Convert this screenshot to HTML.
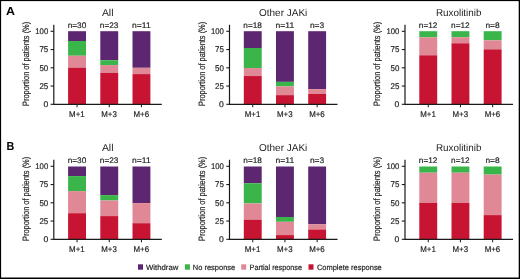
<!DOCTYPE html>
<html><head><meta charset="utf-8"><style>
html,body{margin:0;padding:0;background:#fff;}
body{position:relative;width:520px;height:279px;overflow:hidden;font-family:"Liberation Sans",sans-serif;}
svg{display:block;position:absolute;left:0;top:0;} #c{will-change:transform;filter:blur(0.4px);} text{text-rendering:geometricPrecision;font-family:"Liberation Sans",sans-serif;} .t{fill:#1e1e1e;stroke:#1e1e1e;stroke-width:0.18px;}
</style></head><body>
<svg id="c" width="520" height="279" viewBox="0 0 520 279">
<rect x="-5" y="-5" width="530" height="289" fill="#fff"/>
<g>
<rect x="68.10" y="31.20" width="17.9" height="9.80" fill="#5C2670"/>
<rect x="68.10" y="41.00" width="17.9" height="14.75" fill="#3AB54A"/>
<rect x="68.10" y="55.75" width="17.9" height="11.90" fill="#E08896"/>
<rect x="68.10" y="67.65" width="17.9" height="36.65" fill="#C71432"/>
<rect x="100.30" y="31.20" width="17.9" height="29.00" fill="#5C2670"/>
<rect x="100.30" y="60.20" width="17.9" height="4.90" fill="#3AB54A"/>
<rect x="100.30" y="65.10" width="17.9" height="7.80" fill="#E08896"/>
<rect x="100.30" y="72.90" width="17.9" height="31.40" fill="#C71432"/>
<rect x="132.50" y="31.20" width="17.9" height="36.60" fill="#5C2670"/>
<rect x="132.50" y="67.80" width="17.9" height="6.30" fill="#E08896"/>
<rect x="132.50" y="74.10" width="17.9" height="30.20" fill="#C71432"/>
<path d="M53.80 24.70V104.30H161.80" fill="none" stroke="#1a1a1a" stroke-width="1.2"/>
<path d="M50.60 104.30H53.80" stroke="#1a1a1a" stroke-width="1.1"/>
<text class="t" x="48.20" y="107.20" font-size="8.3" text-anchor="end" textLength="4.80" lengthAdjust="spacingAndGlyphs" >0</text>
<path d="M50.60 86.05H53.80" stroke="#1a1a1a" stroke-width="1.1"/>
<text class="t" x="48.20" y="88.95" font-size="8.3" text-anchor="end" textLength="8.80" lengthAdjust="spacingAndGlyphs" >25</text>
<path d="M50.60 67.80H53.80" stroke="#1a1a1a" stroke-width="1.1"/>
<text class="t" x="48.20" y="70.70" font-size="8.3" text-anchor="end" textLength="8.80" lengthAdjust="spacingAndGlyphs" >50</text>
<path d="M50.60 49.55H53.80" stroke="#1a1a1a" stroke-width="1.1"/>
<text class="t" x="48.20" y="52.45" font-size="8.3" text-anchor="end" textLength="8.80" lengthAdjust="spacingAndGlyphs" >75</text>
<path d="M50.60 31.30H53.80" stroke="#1a1a1a" stroke-width="1.1"/>
<text class="t" x="48.20" y="34.20" font-size="8.3" text-anchor="end" textLength="12.90" lengthAdjust="spacingAndGlyphs" >100</text>
<path d="M77.05 104.30V107.30" stroke="#1a1a1a" stroke-width="1"/>
<text class="t" x="76.85" y="116.50" font-size="8.3" text-anchor="middle" textLength="15.60" lengthAdjust="spacingAndGlyphs" >M+1</text>
<text class="t" x="76.95" y="27.70" font-size="8.1" text-anchor="middle" textLength="18.60" lengthAdjust="spacingAndGlyphs" >n=30</text>
<path d="M109.25 104.30V107.30" stroke="#1a1a1a" stroke-width="1"/>
<text class="t" x="109.05" y="116.50" font-size="8.3" text-anchor="middle" textLength="15.60" lengthAdjust="spacingAndGlyphs" >M+3</text>
<text class="t" x="109.15" y="27.70" font-size="8.1" text-anchor="middle" textLength="18.60" lengthAdjust="spacingAndGlyphs" >n=23</text>
<path d="M141.45 104.30V107.30" stroke="#1a1a1a" stroke-width="1"/>
<text class="t" x="141.25" y="116.50" font-size="8.3" text-anchor="middle" textLength="15.60" lengthAdjust="spacingAndGlyphs" >M+6</text>
<text class="t" x="141.35" y="27.70" font-size="8.1" text-anchor="middle" textLength="18.60" lengthAdjust="spacingAndGlyphs" >n=11</text>
<text class="t" x="107.70" y="15.75" font-size="10" text-anchor="middle" textLength="11.60" lengthAdjust="spacingAndGlyphs" style="stroke-width:0">All</text>
<text class="t" transform="translate(29.00,63.90) rotate(-90)" x="0" y="0" text-anchor="middle" font-size="9.2" textLength="84.2" lengthAdjust="spacingAndGlyphs">Proportion of patients (%)</text>
<rect x="243.80" y="31.20" width="17.9" height="16.80" fill="#5C2670"/>
<rect x="243.80" y="48.00" width="17.9" height="20.05" fill="#3AB54A"/>
<rect x="243.80" y="68.05" width="17.9" height="8.00" fill="#E08896"/>
<rect x="243.80" y="76.05" width="17.9" height="28.25" fill="#C71432"/>
<rect x="276.00" y="31.20" width="17.9" height="50.65" fill="#5C2670"/>
<rect x="276.00" y="81.85" width="17.9" height="4.55" fill="#3AB54A"/>
<rect x="276.00" y="86.40" width="17.9" height="8.75" fill="#E08896"/>
<rect x="276.00" y="95.15" width="17.9" height="9.15" fill="#C71432"/>
<rect x="308.20" y="31.20" width="17.9" height="57.90" fill="#5C2670"/>
<rect x="308.20" y="89.10" width="17.9" height="4.90" fill="#E08896"/>
<rect x="308.20" y="94.00" width="17.9" height="10.30" fill="#C71432"/>
<path d="M229.50 24.70V104.30H337.50" fill="none" stroke="#1a1a1a" stroke-width="1.2"/>
<path d="M226.30 104.30H229.50" stroke="#1a1a1a" stroke-width="1.1"/>
<text class="t" x="223.90" y="107.20" font-size="8.3" text-anchor="end" textLength="4.80" lengthAdjust="spacingAndGlyphs" >0</text>
<path d="M226.30 86.05H229.50" stroke="#1a1a1a" stroke-width="1.1"/>
<text class="t" x="223.90" y="88.95" font-size="8.3" text-anchor="end" textLength="8.80" lengthAdjust="spacingAndGlyphs" >25</text>
<path d="M226.30 67.80H229.50" stroke="#1a1a1a" stroke-width="1.1"/>
<text class="t" x="223.90" y="70.70" font-size="8.3" text-anchor="end" textLength="8.80" lengthAdjust="spacingAndGlyphs" >50</text>
<path d="M226.30 49.55H229.50" stroke="#1a1a1a" stroke-width="1.1"/>
<text class="t" x="223.90" y="52.45" font-size="8.3" text-anchor="end" textLength="8.80" lengthAdjust="spacingAndGlyphs" >75</text>
<path d="M226.30 31.30H229.50" stroke="#1a1a1a" stroke-width="1.1"/>
<text class="t" x="223.90" y="34.20" font-size="8.3" text-anchor="end" textLength="12.90" lengthAdjust="spacingAndGlyphs" >100</text>
<path d="M252.75 104.30V107.30" stroke="#1a1a1a" stroke-width="1"/>
<text class="t" x="252.55" y="116.50" font-size="8.3" text-anchor="middle" textLength="15.60" lengthAdjust="spacingAndGlyphs" >M+1</text>
<text class="t" x="252.65" y="27.70" font-size="8.1" text-anchor="middle" textLength="18.60" lengthAdjust="spacingAndGlyphs" >n=18</text>
<path d="M284.95 104.30V107.30" stroke="#1a1a1a" stroke-width="1"/>
<text class="t" x="284.75" y="116.50" font-size="8.3" text-anchor="middle" textLength="15.60" lengthAdjust="spacingAndGlyphs" >M+3</text>
<text class="t" x="284.85" y="27.70" font-size="8.1" text-anchor="middle" textLength="18.60" lengthAdjust="spacingAndGlyphs" >n=11</text>
<path d="M317.15 104.30V107.30" stroke="#1a1a1a" stroke-width="1"/>
<text class="t" x="316.95" y="116.50" font-size="8.3" text-anchor="middle" textLength="15.60" lengthAdjust="spacingAndGlyphs" >M+6</text>
<text class="t" x="317.05" y="27.70" font-size="8.1" text-anchor="middle" textLength="14.20" lengthAdjust="spacingAndGlyphs" >n=3</text>
<text class="t" x="283.15" y="15.75" font-size="10" text-anchor="middle" textLength="48.30" lengthAdjust="spacingAndGlyphs" style="stroke-width:0">Other JAKi</text>
<text class="t" transform="translate(204.70,63.90) rotate(-90)" x="0" y="0" text-anchor="middle" font-size="9.2" textLength="84.2" lengthAdjust="spacingAndGlyphs">Proportion of patients (%)</text>
<rect x="419.30" y="31.20" width="17.9" height="6.05" fill="#3AB54A"/>
<rect x="419.30" y="37.25" width="17.9" height="18.05" fill="#E08896"/>
<rect x="419.30" y="55.30" width="17.9" height="49.00" fill="#C71432"/>
<rect x="451.50" y="31.20" width="17.9" height="6.00" fill="#3AB54A"/>
<rect x="451.50" y="37.20" width="17.9" height="6.10" fill="#E08896"/>
<rect x="451.50" y="43.30" width="17.9" height="61.00" fill="#C71432"/>
<rect x="483.70" y="31.20" width="17.9" height="9.10" fill="#3AB54A"/>
<rect x="483.70" y="40.30" width="17.9" height="9.05" fill="#E08896"/>
<rect x="483.70" y="49.35" width="17.9" height="54.95" fill="#C71432"/>
<path d="M405.00 24.70V104.30H513.00" fill="none" stroke="#1a1a1a" stroke-width="1.2"/>
<path d="M401.80 104.30H405.00" stroke="#1a1a1a" stroke-width="1.1"/>
<text class="t" x="399.40" y="107.20" font-size="8.3" text-anchor="end" textLength="4.80" lengthAdjust="spacingAndGlyphs" >0</text>
<path d="M401.80 86.05H405.00" stroke="#1a1a1a" stroke-width="1.1"/>
<text class="t" x="399.40" y="88.95" font-size="8.3" text-anchor="end" textLength="8.80" lengthAdjust="spacingAndGlyphs" >25</text>
<path d="M401.80 67.80H405.00" stroke="#1a1a1a" stroke-width="1.1"/>
<text class="t" x="399.40" y="70.70" font-size="8.3" text-anchor="end" textLength="8.80" lengthAdjust="spacingAndGlyphs" >50</text>
<path d="M401.80 49.55H405.00" stroke="#1a1a1a" stroke-width="1.1"/>
<text class="t" x="399.40" y="52.45" font-size="8.3" text-anchor="end" textLength="8.80" lengthAdjust="spacingAndGlyphs" >75</text>
<path d="M401.80 31.30H405.00" stroke="#1a1a1a" stroke-width="1.1"/>
<text class="t" x="399.40" y="34.20" font-size="8.3" text-anchor="end" textLength="12.90" lengthAdjust="spacingAndGlyphs" >100</text>
<path d="M428.25 104.30V107.30" stroke="#1a1a1a" stroke-width="1"/>
<text class="t" x="428.05" y="116.50" font-size="8.3" text-anchor="middle" textLength="15.60" lengthAdjust="spacingAndGlyphs" >M+1</text>
<text class="t" x="428.15" y="27.70" font-size="8.1" text-anchor="middle" textLength="18.60" lengthAdjust="spacingAndGlyphs" >n=12</text>
<path d="M460.45 104.30V107.30" stroke="#1a1a1a" stroke-width="1"/>
<text class="t" x="460.25" y="116.50" font-size="8.3" text-anchor="middle" textLength="15.60" lengthAdjust="spacingAndGlyphs" >M+3</text>
<text class="t" x="460.35" y="27.70" font-size="8.1" text-anchor="middle" textLength="18.60" lengthAdjust="spacingAndGlyphs" >n=12</text>
<path d="M492.65 104.30V107.30" stroke="#1a1a1a" stroke-width="1"/>
<text class="t" x="492.45" y="116.50" font-size="8.3" text-anchor="middle" textLength="15.60" lengthAdjust="spacingAndGlyphs" >M+6</text>
<text class="t" x="492.55" y="27.70" font-size="8.1" text-anchor="middle" textLength="14.20" lengthAdjust="spacingAndGlyphs" >n=8</text>
<text class="t" x="458.70" y="15.75" font-size="10" text-anchor="middle" textLength="45.60" lengthAdjust="spacingAndGlyphs" style="stroke-width:0">Ruxolitinib</text>
<text class="t" transform="translate(380.20,63.90) rotate(-90)" x="0" y="0" text-anchor="middle" font-size="9.2" textLength="84.2" lengthAdjust="spacingAndGlyphs">Proportion of patients (%)</text>
<rect x="68.10" y="166.50" width="17.9" height="9.60" fill="#5C2670"/>
<rect x="68.10" y="176.10" width="17.9" height="15.00" fill="#3AB54A"/>
<rect x="68.10" y="191.10" width="17.9" height="22.10" fill="#E08896"/>
<rect x="68.10" y="213.20" width="17.9" height="26.10" fill="#C71432"/>
<rect x="100.30" y="166.50" width="17.9" height="28.60" fill="#5C2670"/>
<rect x="100.30" y="195.10" width="17.9" height="5.40" fill="#3AB54A"/>
<rect x="100.30" y="200.50" width="17.9" height="15.60" fill="#E08896"/>
<rect x="100.30" y="216.10" width="17.9" height="23.20" fill="#C71432"/>
<rect x="132.50" y="166.50" width="17.9" height="36.60" fill="#5C2670"/>
<rect x="132.50" y="203.10" width="17.9" height="20.10" fill="#E08896"/>
<rect x="132.50" y="223.20" width="17.9" height="16.10" fill="#C71432"/>
<path d="M53.80 159.70V239.30H161.80" fill="none" stroke="#1a1a1a" stroke-width="1.2"/>
<path d="M50.60 239.30H53.80" stroke="#1a1a1a" stroke-width="1.1"/>
<text class="t" x="48.20" y="242.20" font-size="8.3" text-anchor="end" textLength="4.80" lengthAdjust="spacingAndGlyphs" >0</text>
<path d="M50.60 221.05H53.80" stroke="#1a1a1a" stroke-width="1.1"/>
<text class="t" x="48.20" y="223.95" font-size="8.3" text-anchor="end" textLength="8.80" lengthAdjust="spacingAndGlyphs" >25</text>
<path d="M50.60 202.80H53.80" stroke="#1a1a1a" stroke-width="1.1"/>
<text class="t" x="48.20" y="205.70" font-size="8.3" text-anchor="end" textLength="8.80" lengthAdjust="spacingAndGlyphs" >50</text>
<path d="M50.60 184.55H53.80" stroke="#1a1a1a" stroke-width="1.1"/>
<text class="t" x="48.20" y="187.45" font-size="8.3" text-anchor="end" textLength="8.80" lengthAdjust="spacingAndGlyphs" >75</text>
<path d="M50.60 166.30H53.80" stroke="#1a1a1a" stroke-width="1.1"/>
<text class="t" x="48.20" y="169.20" font-size="8.3" text-anchor="end" textLength="12.90" lengthAdjust="spacingAndGlyphs" >100</text>
<path d="M77.05 239.30V242.30" stroke="#1a1a1a" stroke-width="1"/>
<text class="t" x="76.85" y="251.50" font-size="8.3" text-anchor="middle" textLength="15.60" lengthAdjust="spacingAndGlyphs" >M+1</text>
<text class="t" x="76.95" y="162.70" font-size="8.1" text-anchor="middle" textLength="18.60" lengthAdjust="spacingAndGlyphs" >n=30</text>
<path d="M109.25 239.30V242.30" stroke="#1a1a1a" stroke-width="1"/>
<text class="t" x="109.05" y="251.50" font-size="8.3" text-anchor="middle" textLength="15.60" lengthAdjust="spacingAndGlyphs" >M+3</text>
<text class="t" x="109.15" y="162.70" font-size="8.1" text-anchor="middle" textLength="18.60" lengthAdjust="spacingAndGlyphs" >n=23</text>
<path d="M141.45 239.30V242.30" stroke="#1a1a1a" stroke-width="1"/>
<text class="t" x="141.25" y="251.50" font-size="8.3" text-anchor="middle" textLength="15.60" lengthAdjust="spacingAndGlyphs" >M+6</text>
<text class="t" x="141.35" y="162.70" font-size="8.1" text-anchor="middle" textLength="18.60" lengthAdjust="spacingAndGlyphs" >n=11</text>
<text class="t" x="107.70" y="150.75" font-size="10" text-anchor="middle" textLength="11.60" lengthAdjust="spacingAndGlyphs" style="stroke-width:0">All</text>
<text class="t" transform="translate(29.00,198.90) rotate(-90)" x="0" y="0" text-anchor="middle" font-size="9.2" textLength="84.2" lengthAdjust="spacingAndGlyphs">Proportion of patients (%)</text>
<rect x="243.80" y="166.50" width="17.9" height="16.70" fill="#5C2670"/>
<rect x="243.80" y="183.20" width="17.9" height="20.25" fill="#3AB54A"/>
<rect x="243.80" y="203.45" width="17.9" height="16.25" fill="#E08896"/>
<rect x="243.80" y="219.70" width="17.9" height="19.60" fill="#C71432"/>
<rect x="276.00" y="166.50" width="17.9" height="50.50" fill="#5C2670"/>
<rect x="276.00" y="217.00" width="17.9" height="4.80" fill="#3AB54A"/>
<rect x="276.00" y="221.80" width="17.9" height="13.30" fill="#E08896"/>
<rect x="276.00" y="235.10" width="17.9" height="4.20" fill="#C71432"/>
<rect x="308.20" y="166.50" width="17.9" height="57.80" fill="#5C2670"/>
<rect x="308.20" y="224.30" width="17.9" height="5.20" fill="#E08896"/>
<rect x="308.20" y="229.50" width="17.9" height="9.80" fill="#C71432"/>
<path d="M229.50 159.70V239.30H337.50" fill="none" stroke="#1a1a1a" stroke-width="1.2"/>
<path d="M226.30 239.30H229.50" stroke="#1a1a1a" stroke-width="1.1"/>
<text class="t" x="223.90" y="242.20" font-size="8.3" text-anchor="end" textLength="4.80" lengthAdjust="spacingAndGlyphs" >0</text>
<path d="M226.30 221.05H229.50" stroke="#1a1a1a" stroke-width="1.1"/>
<text class="t" x="223.90" y="223.95" font-size="8.3" text-anchor="end" textLength="8.80" lengthAdjust="spacingAndGlyphs" >25</text>
<path d="M226.30 202.80H229.50" stroke="#1a1a1a" stroke-width="1.1"/>
<text class="t" x="223.90" y="205.70" font-size="8.3" text-anchor="end" textLength="8.80" lengthAdjust="spacingAndGlyphs" >50</text>
<path d="M226.30 184.55H229.50" stroke="#1a1a1a" stroke-width="1.1"/>
<text class="t" x="223.90" y="187.45" font-size="8.3" text-anchor="end" textLength="8.80" lengthAdjust="spacingAndGlyphs" >75</text>
<path d="M226.30 166.30H229.50" stroke="#1a1a1a" stroke-width="1.1"/>
<text class="t" x="223.90" y="169.20" font-size="8.3" text-anchor="end" textLength="12.90" lengthAdjust="spacingAndGlyphs" >100</text>
<path d="M252.75 239.30V242.30" stroke="#1a1a1a" stroke-width="1"/>
<text class="t" x="252.55" y="251.50" font-size="8.3" text-anchor="middle" textLength="15.60" lengthAdjust="spacingAndGlyphs" >M+1</text>
<text class="t" x="252.65" y="162.70" font-size="8.1" text-anchor="middle" textLength="18.60" lengthAdjust="spacingAndGlyphs" >n=18</text>
<path d="M284.95 239.30V242.30" stroke="#1a1a1a" stroke-width="1"/>
<text class="t" x="284.75" y="251.50" font-size="8.3" text-anchor="middle" textLength="15.60" lengthAdjust="spacingAndGlyphs" >M+3</text>
<text class="t" x="284.85" y="162.70" font-size="8.1" text-anchor="middle" textLength="18.60" lengthAdjust="spacingAndGlyphs" >n=11</text>
<path d="M317.15 239.30V242.30" stroke="#1a1a1a" stroke-width="1"/>
<text class="t" x="316.95" y="251.50" font-size="8.3" text-anchor="middle" textLength="15.60" lengthAdjust="spacingAndGlyphs" >M+6</text>
<text class="t" x="317.05" y="162.70" font-size="8.1" text-anchor="middle" textLength="14.20" lengthAdjust="spacingAndGlyphs" >n=3</text>
<text class="t" x="283.15" y="150.75" font-size="10" text-anchor="middle" textLength="48.30" lengthAdjust="spacingAndGlyphs" style="stroke-width:0">Other JAKi</text>
<text class="t" transform="translate(204.70,198.90) rotate(-90)" x="0" y="0" text-anchor="middle" font-size="9.2" textLength="84.2" lengthAdjust="spacingAndGlyphs">Proportion of patients (%)</text>
<rect x="419.30" y="166.50" width="17.9" height="6.20" fill="#3AB54A"/>
<rect x="419.30" y="172.70" width="17.9" height="30.20" fill="#E08896"/>
<rect x="419.30" y="202.90" width="17.9" height="36.40" fill="#C71432"/>
<rect x="451.50" y="166.50" width="17.9" height="6.20" fill="#3AB54A"/>
<rect x="451.50" y="172.70" width="17.9" height="30.20" fill="#E08896"/>
<rect x="451.50" y="202.90" width="17.9" height="36.40" fill="#C71432"/>
<rect x="483.70" y="166.50" width="17.9" height="8.10" fill="#3AB54A"/>
<rect x="483.70" y="174.60" width="17.9" height="40.50" fill="#E08896"/>
<rect x="483.70" y="215.10" width="17.9" height="24.20" fill="#C71432"/>
<path d="M405.00 159.70V239.30H513.00" fill="none" stroke="#1a1a1a" stroke-width="1.2"/>
<path d="M401.80 239.30H405.00" stroke="#1a1a1a" stroke-width="1.1"/>
<text class="t" x="399.40" y="242.20" font-size="8.3" text-anchor="end" textLength="4.80" lengthAdjust="spacingAndGlyphs" >0</text>
<path d="M401.80 221.05H405.00" stroke="#1a1a1a" stroke-width="1.1"/>
<text class="t" x="399.40" y="223.95" font-size="8.3" text-anchor="end" textLength="8.80" lengthAdjust="spacingAndGlyphs" >25</text>
<path d="M401.80 202.80H405.00" stroke="#1a1a1a" stroke-width="1.1"/>
<text class="t" x="399.40" y="205.70" font-size="8.3" text-anchor="end" textLength="8.80" lengthAdjust="spacingAndGlyphs" >50</text>
<path d="M401.80 184.55H405.00" stroke="#1a1a1a" stroke-width="1.1"/>
<text class="t" x="399.40" y="187.45" font-size="8.3" text-anchor="end" textLength="8.80" lengthAdjust="spacingAndGlyphs" >75</text>
<path d="M401.80 166.30H405.00" stroke="#1a1a1a" stroke-width="1.1"/>
<text class="t" x="399.40" y="169.20" font-size="8.3" text-anchor="end" textLength="12.90" lengthAdjust="spacingAndGlyphs" >100</text>
<path d="M428.25 239.30V242.30" stroke="#1a1a1a" stroke-width="1"/>
<text class="t" x="428.05" y="251.50" font-size="8.3" text-anchor="middle" textLength="15.60" lengthAdjust="spacingAndGlyphs" >M+1</text>
<text class="t" x="428.15" y="162.70" font-size="8.1" text-anchor="middle" textLength="18.60" lengthAdjust="spacingAndGlyphs" >n=12</text>
<path d="M460.45 239.30V242.30" stroke="#1a1a1a" stroke-width="1"/>
<text class="t" x="460.25" y="251.50" font-size="8.3" text-anchor="middle" textLength="15.60" lengthAdjust="spacingAndGlyphs" >M+3</text>
<text class="t" x="460.35" y="162.70" font-size="8.1" text-anchor="middle" textLength="18.60" lengthAdjust="spacingAndGlyphs" >n=12</text>
<path d="M492.65 239.30V242.30" stroke="#1a1a1a" stroke-width="1"/>
<text class="t" x="492.45" y="251.50" font-size="8.3" text-anchor="middle" textLength="15.60" lengthAdjust="spacingAndGlyphs" >M+6</text>
<text class="t" x="492.55" y="162.70" font-size="8.1" text-anchor="middle" textLength="14.20" lengthAdjust="spacingAndGlyphs" >n=8</text>
<text class="t" x="458.70" y="150.75" font-size="10" text-anchor="middle" textLength="45.60" lengthAdjust="spacingAndGlyphs" style="stroke-width:0">Ruxolitinib</text>
<text class="t" transform="translate(380.20,198.90) rotate(-90)" x="0" y="0" text-anchor="middle" font-size="9.2" textLength="84.2" lengthAdjust="spacingAndGlyphs">Proportion of patients (%)</text>
<text x="5.9" y="15.0" font-size="11.5" font-weight="bold" fill="#000" textLength="9.0" lengthAdjust="spacingAndGlyphs">A</text>
<text x="6.6" y="150.2" font-size="11.5" font-weight="bold" fill="#000" textLength="7.8" lengthAdjust="spacingAndGlyphs">B</text>
<rect x="138.0" y="264.3" width="5.0" height="5.4" fill="#5C2670"/>
<text class="t" x="146.00" y="269.80" font-size="7.7" text-anchor="start" textLength="32.40" lengthAdjust="spacingAndGlyphs" >Withdraw</text>
<rect x="184.9" y="264.3" width="5.0" height="5.4" fill="#3AB54A"/>
<text class="t" x="192.80" y="269.80" font-size="7.7" text-anchor="start" textLength="42.40" lengthAdjust="spacingAndGlyphs" >No response</text>
<rect x="241.2" y="264.3" width="5.0" height="5.4" fill="#E08896"/>
<text class="t" x="249.60" y="269.80" font-size="7.7" text-anchor="start" textLength="52.40" lengthAdjust="spacingAndGlyphs" >Partial response</text>
<rect x="308.5" y="264.3" width="5.0" height="5.4" fill="#C71432"/>
<text class="t" x="316.90" y="269.80" font-size="7.7" text-anchor="start" textLength="64.90" lengthAdjust="spacingAndGlyphs" >Complete response</text>
</g>
</svg>
<svg width="520" height="279" viewBox="0 0 520 279">
<rect x="0" y="0" width="520" height="1.1" fill="#000"/>
<rect x="0" y="0" width="1.1" height="279" fill="#000"/>
<rect x="518.7" y="0" width="1.3" height="279" fill="#000"/>
<rect x="0" y="277.5" width="520" height="1.5" fill="#000"/>
</svg>
</body></html>
